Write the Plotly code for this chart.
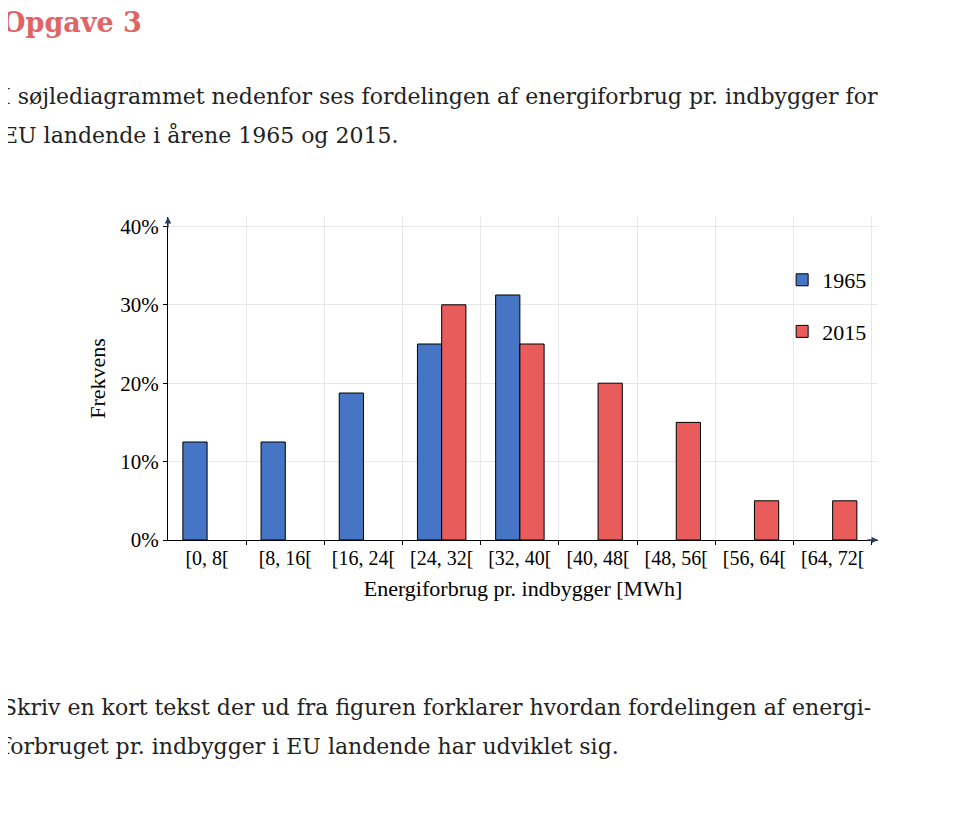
"""
Opgave 3 - energiforbrug pr. indbygger, EU 1965 og 2015
"""

import plotly.graph_objects as go

# data
intervals = ["[0, 8[", "[8, 16[", "[16, 24[", "[24, 32[", "[32, 40[",
             "[40, 48[", "[48, 56[", "[56, 64[", "[64, 72["]
freq_1965 = [12.5, 12.5, 18.75, 25, 31.25, None, None, None, None]
freq_2015 = [None, None, None, 30, 25, 20, 15, 5, 5]
y_ticks = [0, 10, 20, 30, 40]

BLUE = "#4575c4"
RED = "#e85c5b"
TITLE_RED = "#e06464"
FONT = "Liberation Serif"
BODY_FONT = "DejaVu Serif"

W, H = 955, 819
L, R, T, B = 160, 85, 209, 287
OFF = 8  # page body margin

centers = [i + 0.5 for i in range(len(intervals))]

fig = go.Figure()
fig.add_trace(go.Bar(x=centers, y=freq_1965, name="1965", marker_color=BLUE,
                     legendgroup="a", marker_line=dict(color="black", width=1)))
fig.add_trace(go.Bar(x=centers, y=freq_2015, name="2015", marker_color=RED,
                     legendgroup="b", marker_line=dict(color="black", width=1)))

fig.update_layout(
    width=W, height=H,
    margin=dict(l=L, r=R, t=T, b=B),
    paper_bgcolor="white", plot_bgcolor="white",
    font=dict(family=FONT, size=20, color="black"),
    barmode="group", bargap=0.38, bargroupgap=0,
    showlegend=True,
    legend=dict(x=0.865, y=0.87, xanchor="left", yanchor="top",
                font=dict(size=22), itemwidth=30, tracegroupgap=20,
                traceorder="grouped", bgcolor="rgba(0,0,0,0)"),
)

fig.update_xaxes(
    range=[0, 9.08], tickvals=centers, ticktext=intervals, ticks="",
    showgrid=False, zeroline=False,
    showline=True, linecolor="black", linewidth=1.3,
    minor=dict(tickvals=list(range(1, 10)), showgrid=True, gridcolor="#e8e8e8",
               ticks="outside", ticklen=4, tickcolor="black"),
    title=dict(text="Energiforbrug pr. indbygger [MWh]", font=dict(size=22), standoff=12),
    tickfont=dict(size=20),
)
fig.update_yaxes(
    range=[0, 41.2], tickvals=y_ticks, ticktext=[f"{v}%" for v in y_ticks],
    ticks="outside", ticklen=4, tickcolor="black",
    showgrid=True, gridcolor="#e8e8e8", zeroline=False,
    showline=True, linecolor="black", linewidth=1.3,
    title=dict(text="Frekvens", font=dict(size=22), standoff=8),
    tickfont=dict(size=21),
)

# axis arrowheads
fig.add_annotation(x=9.08, y=0, ax=-12, ay=0, xref="x", yref="y", text="",
                   showarrow=True, arrowhead=2, arrowsize=1, arrowwidth=1.3)
fig.add_annotation(x=0, y=41.2, ax=0, ay=12, xref="x", yref="y", text="",
                   showarrow=True, arrowhead=2, arrowsize=1, arrowwidth=1.3)

# surrounding text, positions in page pixels
texts = [
    (0, 22, "<b>Opgave 3</b>", 27, TITLE_RED),
    (0, 97, "I søjlediagrammet nedenfor ses fordelingen af energiforbrug pr. indbygger for", 22, "#222"),
    (0, 135, "EU landende i årene 1965 og 2015.", 22, "#222"),
    (0, 707, "Skriv en kort tekst der ud fra figuren forklarer hvordan fordelingen af energi-", 22, "#222"),
    (0, 746, "forbruget pr. indbygger i EU landende har udviklet sig.", 22, "#222"),
]
pw = W - L - R
ph = H - T - B
for px_x, px_y, txt, size, col in texts:
    fig.add_annotation(x=(px_x - OFF - L) / pw, y=1 - (px_y - OFF - T) / ph,
                       xref="paper", yref="paper",
                       xanchor="left", yanchor="middle", showarrow=False, text=txt,
                       font=dict(size=size, color=col, family=BODY_FONT))

fig.write_html("out.html")
